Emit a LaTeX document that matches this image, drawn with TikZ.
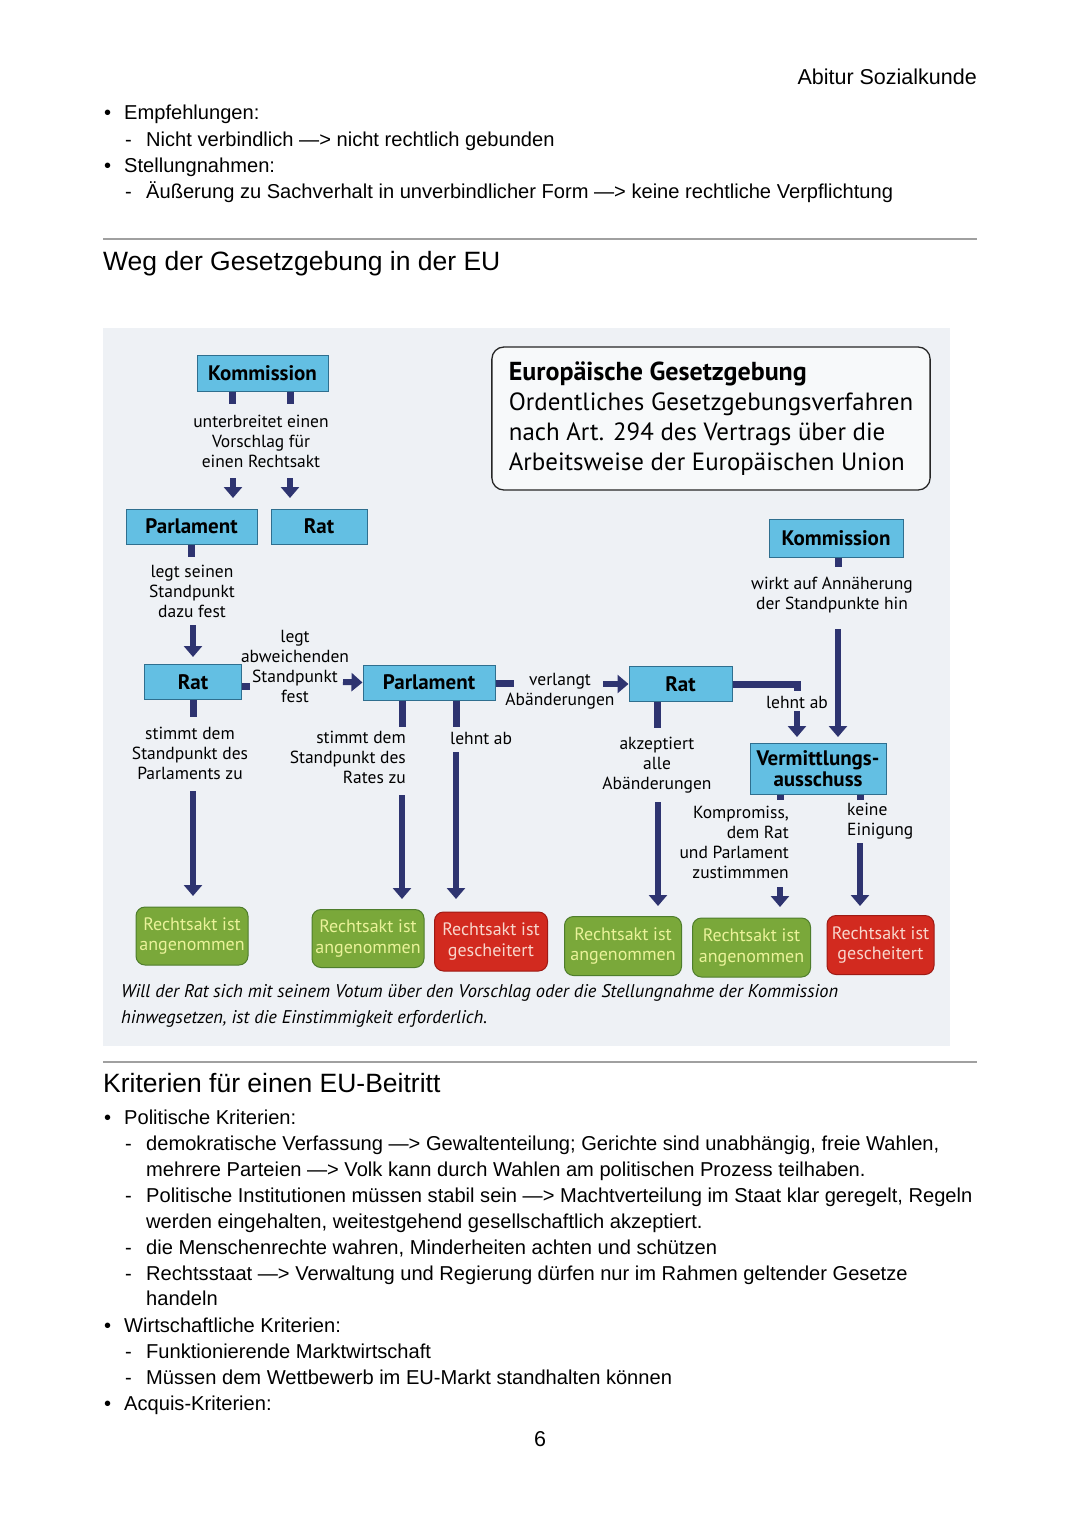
\documentclass[tikz,border=0pt]{standalone}
\usepackage{fontspec}
\setmainfont{Liberation Sans}
\newfontfamily\dfont{PT Sans}
\usetikzlibrary{arrows.meta}
\definecolor{navy}{HTML}{2E3470}
\definecolor{boxblue}{HTML}{63BFE3}
\definecolor{boxline}{HTML}{2F6F8F}
\definecolor{okgreen}{HTML}{7AA83A}
\definecolor{okline}{HTML}{4E7D2C}
\definecolor{oktext}{HTML}{EAF29A}
\definecolor{nored}{HTML}{D22A1F}
\definecolor{noline}{HTML}{9E1A14}
\definecolor{notext}{HTML}{F8D6CC}
\definecolor{panel}{HTML}{EEF1F5}
\definecolor{rulegray}{HTML}{A0A0A0}
\newcommand\pl[4]{\node[ptxt] (#1) at (#3,#2) {#4};}
\begin{document}
\begin{tikzpicture}[x=1pt,y=-1pt,
  ptxt/.style={anchor=base west, inner sep=0pt, font=\fontsize{20.1}{26}\selectfont},
  phead/.style={anchor=base west, inner sep=0pt, font=\fontsize{26.5}{30}\selectfont},
  ebox/.style={draw=boxline, line width=1pt, fill=boxblue, inner sep=0pt,
    font=\dfont\bfseries\fontsize{21}{22}\selectfont},
  lbl/.style={font=\dfont\fontsize{17.5}{20}\selectfont, align=center, inner sep=0pt},
  stub/.style={draw=navy, line width=7pt},
  arr/.style={draw=navy, line width=6pt, -{Triangle[width=18pt,length=11pt]}},
  res/.style={rounded corners=9pt, line width=1pt, inner sep=0pt, align=center,
    font=\dfont\fontsize{18}{20.5}\selectfont},
  okres/.style={res, fill=okgreen, draw=okline, text=oktext},
  nores/.style={res, fill=nored, draw=noline, text=notext},
  notetxt/.style={anchor=west, inner sep=0pt, font=\dfont\itshape\fontsize{18.4}{22}\selectfont},
  titlebox/.style={draw=black!85, line width=1.3pt, rounded corners=12pt, fill=white!55!panel,
    align=left, inner xsep=17pt, font=\dfont\fontsize{24.9}{30}\selectfont},
]
\useasboundingbox (0,0) rectangle (1080,1527);
\fill[white] (0,0) rectangle (1080,1527);

% ---------- page text top ----------
\node[anchor=base east, inner sep=0pt, font=\fontsize{21.5}{26}\selectfont] (hdr) at (977,84) {Abitur Sozialkunde};
\pl{b1}{119.5}{107}{\makebox[0pt]{•}}
\pl{t1}{119.5}{124}{Empfehlungen:}
\pl{d1}{146.5}{125}{-}
\pl{t2}{146.5}{146}{Nicht verbindlich —> nicht rechtlich gebunden}
\pl{b2}{172.5}{107}{\makebox[0pt]{•}}
\pl{t3}{172.5}{124}{Stellungnahmen:}
\pl{d2}{198.5}{125}{-}
\pl{t4}{198.5}{146}{Äußerung zu Sachverhalt in unverbindlicher Form —> keine rechtliche Verpflichtung}
\draw[rulegray, line width=1.2pt] (103,239) -- (977,239);
\node[phead] (h1) at (103,270) {Weg der Gesetzgebung in der EU};

% ---------- diagram panel ----------
\fill[panel] (103,328) rectangle (950,1046);

\node[titlebox, minimum width=438pt, minimum height=143pt] (tb) at (711,418.5)
  {{\bfseries\fontsize{26}{30}\selectfont Europäische Gesetzgebung}\\Ordentliches Gesetzgebungsverfahren\\nach Art. 294 des Vertrags über die\\Arbeitsweise der Europäischen Union};

% boxes
\node[ebox, minimum width=131pt, minimum height=36pt] (k1) at (262.5,373) {Kommission};
\node[ebox, minimum width=131pt, minimum height=35pt] (p1) at (191.5,526.5) {Parlament};
\node[ebox, minimum width=96pt, minimum height=35pt] (r1) at (319,526.5) {Rat};
\node[ebox, minimum width=97pt, minimum height=35pt] (r2) at (193,682) {Rat};
\node[ebox, minimum width=132pt, minimum height=35pt] (p2) at (429,682.5) {Parlament};
\node[ebox, minimum width=103pt, minimum height=35pt] (r3) at (680.5,684) {Rat};
\node[ebox, minimum width=134pt, minimum height=38pt] (k2) at (836,538) {Kommission};
\node[ebox, minimum width=136pt, minimum height=51pt, align=center,
  font=\dfont\bfseries\fontsize{21}{21}\selectfont] (va) at (818,768.5) {Vermittlungs-\\ausschuss};

% labels
\node[lbl] (l1) at (261,441) {unterbreitet einen\\Vorschlag für\\einen Rechtsakt};
\node[lbl] (l2) at (192,591) {legt seinen\\Standpunkt\\dazu fest};
\node[lbl, font=\dfont\fontsize{17.5}{19.7}\selectfont] (l3) at (295,666.5) {legt\\abweichenden\\Standpunkt\\fest};
\node[lbl] (l4) at (560,691.5) {verlangt\\Abänderungen};
\node[lbl] (l5) at (797,702) {lehnt ab};
\node[lbl] (l6) at (832,595) {wirkt auf Annäherung\\der Standpunkte hin};
\node[lbl] (l7) at (190,753) {stimmt dem\\Standpunkt des\\Parlaments zu};
\node[lbl, align=right, anchor=east] (l8) at (406,757) {stimmt dem\\Standpunkt des\\Rates zu};
\node[lbl, anchor=west] (l9) at (450,738) {lehnt ab};
\node[lbl] (l10) at (657,765.5) {akzeptiert\\alle\\Abänderungen};
\node[lbl, align=right, anchor=east] (l11) at (789,842) {Kompromiss,\\dem Rat\\und Parlament\\zustimmmen};
\node[lbl, align=left, anchor=west] (l12) at (847,821) {keine\\Einigung};

% results
\node[okres, minimum width=112pt, minimum height=58pt] (g1) at (192,936) {Rechtsakt ist\\angenommen};
\node[okres, minimum width=112pt, minimum height=58pt] (g2) at (368,938.5) {Rechtsakt ist\\angenommen};
\node[nores, minimum width=113pt, minimum height=59pt] (x1) at (491,941.5) {Rechtsakt ist\\gescheitert};
\node[okres, minimum width=117pt, minimum height=59pt] (g3) at (623,946) {Rechtsakt ist\\angenommen};
\node[okres, minimum width=118pt, minimum height=59pt] (g4) at (751.5,947.5) {Rechtsakt ist\\angenommen};
\node[nores, minimum width=107pt, minimum height=59pt] (x2) at (880.5,945) {Rechtsakt ist\\gescheitert};

% note
\node[notetxt] (note1) at (121,993) {Will der Rat sich mit seinem Votum über den Vorschlag oder die Stellungnahme der Kommission};
\node[notetxt] (note2) at (121,1019) {hinwegsetzen, ist die Einstimmigkeit erforderlich.};

% coordinates for stubs / arrows
\coordinate (k1a) at (232,404);
\coordinate (k1b) at (290,404);
\coordinate (p1a) at (191,557);
\coordinate (r2a) at (193,717);
\coordinate (r2b) at (250,686);
\coordinate (p2a) at (402,727);
\coordinate (p2b) at (456,727);
\coordinate (p2c) at (514,683);
\coordinate (r3a) at (657,728);
\coordinate (r3t) at (797,691);
\coordinate (k2a) at (838,567);
\coordinate (vaa) at (780,800);
\coordinate (vab) at (860,800);

% stubs
\draw[stub] (k1a |- k1.south) -- (k1a);
\draw[stub] (k1b |- k1.south) -- (k1b);
\draw[stub] (p1a |- p1.south) -- (p1a);
\draw[stub] (r2a |- r2.south) -- (r2a);
\draw[stub] (r2b -| r2.east) -- (r2b);
\draw[stub] (p2a |- p2.south) -- (p2a);
\draw[stub] (p2b |- p2.south) -- (p2b);
\draw[stub] (p2c -| p2.east) -- (p2c);
\draw[stub] (r3a |- r3.south) -- (r3a);
\draw[stub] (r3.east) -| (r3t);
\draw[stub] (k2a |- k2.south) -- (k2a);
\draw[stub] (vaa |- va.south) -- (vaa);
\draw[stub] (vab |- va.south) -- (vab);

% arrows
\draw[arr] (233,478) -- (233,498);
\draw[arr] (290,478) -- (290,498);
\draw[arr] (193,625) -- (193,657);
\draw[arr] (343,682) -- (p2.west);
\draw[arr] (603,684) -- (r3.west);
\draw[arr] (797,711) -- (797,737);
\draw[arr] (838,629) -- (838,737);
\draw[arr] (193,791) -- (193,896);
\draw[arr] (402,795) -- (402,899);
\draw[arr] (456,752) -- (456,899);
\draw[arr] (658,802) -- (658,906);
\draw[arr] (780,887) -- (780,907);
\draw[arr] (860,843) -- (860,906);

% ---------- page text bottom ----------
\draw[rulegray, line width=1.2pt] (103,1062) -- (977,1062);
\node[phead] (h2) at (103,1092) {Kriterien für einen EU-Beitritt};
\pl{b3}{1124.5}{107}{\makebox[0pt]{•}}
\pl{t5}{1124.5}{124}{Politische Kriterien:}
\pl{d3}{1150.5}{125}{-}
\pl{t6}{1150.5}{146}{demokratische Verfassung —> Gewaltenteilung; Gerichte sind unabhängig, freie Wahlen,}
\pl{t7}{1176.5}{146}{mehrere Parteien —> Volk kann durch Wahlen am politischen Prozess teilhaben.}
\pl{d4}{1202.5}{125}{-}
\pl{t8}{1202.5}{146}{Politische Institutionen müssen stabil sein —> Machtverteilung im Staat klar geregelt, Regeln}
\pl{t9}{1228.5}{146}{werden eingehalten, weitestgehend gesellschaftlich akzeptiert.}
\pl{d5}{1254.5}{125}{-}
\pl{t10}{1254.5}{146}{die Menschenrechte wahren, Minderheiten achten und schützen}
\pl{d6}{1280.5}{125}{-}
\pl{t11}{1280.5}{146}{Rechtsstaat —> Verwaltung und Regierung dürfen nur im Rahmen geltender Gesetze}
\pl{t12}{1305.5}{146}{handeln}
\pl{b4}{1332.5}{107}{\makebox[0pt]{•}}
\pl{t13}{1332.5}{124}{Wirtschaftliche Kriterien:}
\pl{d7}{1358.5}{125}{-}
\pl{t14}{1358.5}{146}{Funktionierende Marktwirtschaft}
\pl{d8}{1384.5}{125}{-}
\pl{t15}{1384.5}{146}{Müssen dem Wettbewerb im EU-Markt standhalten können}
\pl{b5}{1410.5}{107}{\makebox[0pt]{•}}
\pl{t16}{1410.5}{124}{Acquis-Kriterien:}
\node[anchor=base, inner sep=0pt, font=\fontsize{21.5}{26}\selectfont] (pg) at (540,1446) {6};
\end{tikzpicture}
\end{document}
